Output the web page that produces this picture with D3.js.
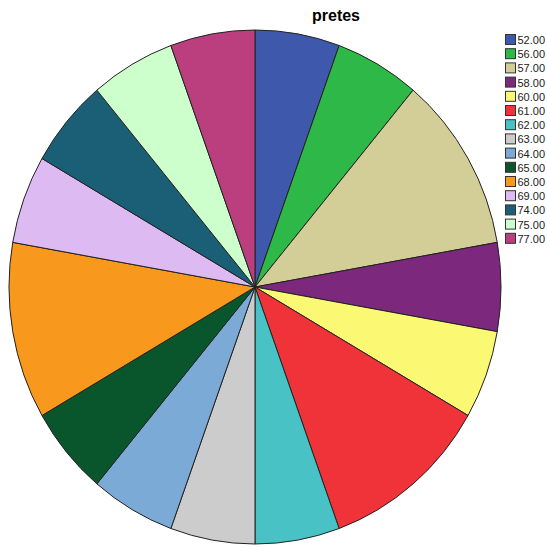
<!DOCTYPE html>
<html>
<head>
<meta charset="utf-8">
<script src="https://cdn.jsdelivr.net/npm/d3@7"></script>
<style>
  body { margin: 0; background: #fff; }
  svg { display: block; font-family: Arial, "Liberation Sans", sans-serif; }
</style>
</head>
<body>
<div id="chart"></div>
<script>
const categories = ['52.00', '56.00', '57.00', '58.00', '60.00', '61.00', '62.00', '63.00', '64.00', '65.00', '68.00', '69.00', '74.00', '75.00', '77.00'];
const counts = [1, 1, 2, 1, 1, 2, 1, 1, 1, 1, 2, 1, 1, 1, 1];
const colors = ['#3e58ac', '#2eb848', '#d3ce97', '#7c287d', '#fbf873', '#ef3338', '#48c2c5', '#cccccc', '#7aaad5', '#0a562c', '#f8981d', '#ddbaf1', '#1a5f76', '#ccffcc', '#bb3f7f'];

const width = 547, height = 548;
const cx = 255, cy = 287, rx = 246, ry = 257;

const svg = d3.select('#chart').append('svg').attr('width', width).attr('height', height);

svg.append('text')
  .attr('x', 336).attr('y', 21)
  .attr('text-anchor', 'middle')
  .style('font-size', '16px').style('font-weight', 'bold')
  .text('pretes');

const data = categories.map((c, i) => ({cat: c, value: counts[i], color: colors[i]}));
const pie = d3.pie().value(d => d.value).sort(null);
const arc = d3.arc().innerRadius(0).outerRadius(rx);

const g = svg.append('g').attr('transform', `translate(${cx},${cy}) scale(1,${ry / rx})`);
g.selectAll('path').data(pie(data)).join('path')
  .attr('d', arc)
  .attr('fill', d => d.data.color)
  .attr('stroke', '#222')
  .attr('stroke-width', 1)
  .attr('vector-effect', 'non-scaling-stroke');

const legend = svg.append('g').attr('transform', 'translate(505,40)');
const item = legend.selectAll('g').data(data).join('g')
  .attr('transform', (d, i) => `translate(0,${i * 14.2})`);
item.append('rect')
  .attr('x', 0.5).attr('y', -5.5).attr('width', 10).attr('height', 10)
  .attr('fill', d => d.color).attr('stroke', '#333').attr('stroke-width', 1);
item.append('text')
  .attr('x', 12.5).attr('y', 0).attr('dy', '0.36em')
  .style('font-size', '11px').attr('fill', '#222')
  .text(d => d.cat);
</script>
</body>
</html>
